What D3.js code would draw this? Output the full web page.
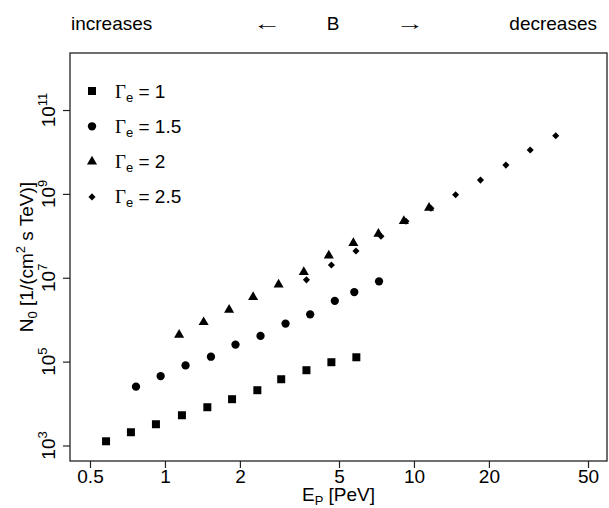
<!DOCTYPE html>
<html><head><meta charset="utf-8">
<script src="https://cdn.jsdelivr.net/npm/d3@7"></script>
<style>
html,body{margin:0;padding:0;background:#fff;}
text{font-family:"Liberation Sans",Arial,sans-serif;fill:#000;}
</style></head>
<body><svg id="chart" width="609" height="508"></svg>
<script>
// ---- data ----
const xTicks = [0.5, 1, 2, 5, 10, 20, 50];
const yTickExps = [3, 5, 7, 9, 11];
const seriesLabels = ["1", "1.5", "2", "2.5"];
const gamma1E = [0.58, 0.73, 0.92, 1.17, 1.48, 1.86, 2.35, 2.93, 3.70, 4.66, 5.87];
const gamma1N = [1.26e3, 2.07e3, 3.21e3, 5.26e3, 8.17e3, 1.27e4, 2.08e4, 3.80e4, 6.24e4, 9.68e4, 1.27e5];
const gamma15E = [0.765, 0.961, 1.21, 1.53, 1.92, 2.42, 3.05, 3.83, 4.81, 5.76, 7.24];
const gamma15N = [2.53e4, 4.51e4, 8.11e4, 1.31e5, 2.55e5, 4.10e5, 8.07e5, 1.34e6, 2.81e6, 4.56e6, 8.20e6];
const gamma2E = [1.14, 1.43, 1.81, 2.26, 2.86, 3.61, 4.55, 5.71, 7.20, 9.11, 11.5];
const gamma2N = [4.34e5, 8.71e5, 1.71e6, 3.44e6, 6.89e6, 1.37e7, 3.39e7, 6.73e7, 1.12e8, 2.24e8, 4.66e8];
const gamma25E = [3.70, 4.66, 5.85, 7.37, 9.29, 11.7, 14.7, 18.5, 23.4, 29.3, 37.1];
const gamma25N = [8.91e6, 2.01e7, 4.34e7, 9.73e7, 2.22e8, 4.53e8, 9.51e8, 2.13e9, 4.86e9, 1.11e10, 2.44e10];

const svg = d3.select("#chart");
const L = 70, R = 607, T = 53, B = 461;
const x = d3.scaleLog().domain([0.4156, 59.6]).range([L, R]);
const y = d3.scaleLog().domain([Math.pow(10, 2.630), Math.pow(10, 12.360)]).range([B, T]);

svg.append("rect").attr("width", 609).attr("height", 508).attr("fill", "#fff");

// symbols
const shapes = [
  {type: d3.symbolSquare, size: 64, rot: 0},
  {type: d3.symbolCircle, size: 54, rot: 0},
  {type: d3.symbolTriangle, size: 44, rot: 0},
  {type: d3.symbolSquare, size: 25, rot: 45}
];
const series = [
  {E: gamma1E, N: gamma1N},
  {E: gamma15E, N: gamma15N},
  {E: gamma2E, N: gamma2N},
  {E: gamma25E, N: gamma25N}
];
series.forEach((s, i) => {
  const sym = d3.symbol().type(shapes[i].type).size(shapes[i].size);
  svg.append("g").selectAll("path").data(s.E.map((e, k) => [e, s.N[k]])).join("path")
    .attr("d", sym)
    .attr("transform", d => `translate(${x(d[0])},${y(d[1])}) rotate(${shapes[i].rot})`)
    .attr("fill", "#000");
});

// box
svg.append("rect").attr("x", L).attr("y", T).attr("width", R - L).attr("height", B - T)
  .attr("fill", "none").attr("stroke", "#222").attr("stroke-width", 1.3);

// x axis
const xAxis = d3.axisBottom(x).tickValues(xTicks).tickFormat(d => String(d)).tickSize(7).tickPadding(2);
const gx = svg.append("g").attr("transform", `translate(0,${B})`).call(xAxis);
gx.select(".domain").remove();
gx.selectAll(".tick line").attr("stroke", "#222").attr("stroke-width", 1.2);
gx.selectAll(".tick text").attr("font-size", 19).attr("font-family", "Liberation Sans, Arial, sans-serif").attr("fill", "#000");

// y axis
const yAxis = d3.axisLeft(y).tickValues(yTickExps.map(e => Math.pow(10, e))).tickFormat("").tickSize(7);
const gy = svg.append("g").attr("transform", `translate(${L},0)`).call(yAxis);
gy.select(".domain").remove();
gy.selectAll(".tick line").attr("stroke", "#222").attr("stroke-width", 1.2);
yTickExps.forEach(e => {
  const t = svg.append("text")
    .attr("transform", `translate(55,${y(Math.pow(10, e))}) rotate(-90)`)
    .attr("text-anchor", "middle").attr("font-size", 19);
  t.append("tspan").text("10");
  t.append("tspan").attr("font-size", 13).attr("dy", -8).text(String(e));
});

// axis titles
const xt = svg.append("text").attr("x", (L + R) / 2).attr("y", 501).attr("text-anchor", "middle").attr("font-size", 19);
xt.append("tspan").text("E");
xt.append("tspan").attr("font-size", 13).attr("dy", 4).text("P");
xt.append("tspan").attr("dy", -4).text(" [PeV]");

const yt = svg.append("text").attr("transform", `translate(33,${(T + B) / 2}) rotate(-90)`)
  .attr("text-anchor", "middle").attr("font-size", 19);
yt.append("tspan").text("N");
yt.append("tspan").attr("font-size", 13).attr("dy", 4).text("0");
yt.append("tspan").attr("dy", -4).text(" [1/(cm");
yt.append("tspan").attr("font-size", 13).attr("dy", -8).text("2");
yt.append("tspan").attr("dy", 8).text(" s TeV)]");

// legend
seriesLabels.forEach((lab, i) => {
  const ly = 91 + i * 35.3;
  const sym = d3.symbol().type(shapes[i].type).size(shapes[i].size);
  svg.append("path").attr("d", sym).attr("transform", `translate(92,${ly}) rotate(${shapes[i].rot})`).attr("fill", "#000");
  const t = svg.append("text").attr("x", 115).attr("y", ly + 6.5).attr("font-size", 19);
  t.append("tspan").attr("font-family", "Liberation Serif, Times New Roman, serif").text("\u0393");
  t.append("tspan").attr("font-size", 13).attr("dy", 4).text("e");
  t.append("tspan").attr("dy", -4).text(" = " + lab);
});

// top annotation
const topY = 30;
svg.append("text").attr("x", 71).attr("y", topY).attr("font-size", 19).text("increases");
svg.append("text").attr("transform", `translate(267,${topY}) scale(1.5,1)`).attr("text-anchor", "middle")
  .attr("font-size", 19).attr("font-family", "DejaVu Sans, sans-serif").attr("font-weight", 300).text("\u2190");
svg.append("text").attr("x", 333).attr("y", topY).attr("text-anchor", "middle").attr("font-size", 19).text("B");
svg.append("text").attr("transform", `translate(410,${topY}) scale(1.5,1)`).attr("text-anchor", "middle")
  .attr("font-size", 19).attr("font-family", "DejaVu Sans, sans-serif").attr("font-weight", 300).text("\u2192");
svg.append("text").attr("x", 597).attr("y", topY).attr("text-anchor", "end").attr("font-size", 19).text("decreases");
</script></body></html>
